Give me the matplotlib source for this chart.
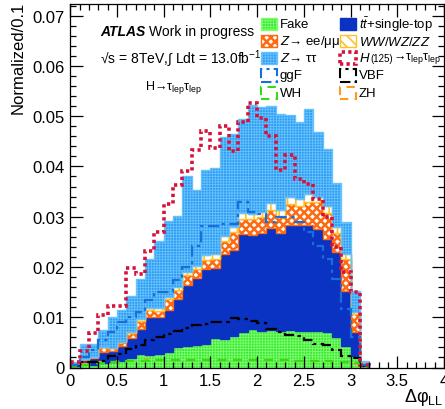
import numpy as np
import matplotlib
matplotlib.use("Agg")
import matplotlib.pyplot as plt
from matplotlib.patches import Rectangle
from matplotlib.ticker import MultipleLocator

# delta phi between the two leptons, 0.1 wide bins from 0 to 3.2
edges = np.round(np.arange(33) * 0.1, 1)

# backgrounds (stacked, bottom to top)
fake = [0.0003, 0.0006, 0.0005, 0.0008, 0.0010, 0.0013, 0.0018, 0.0027, 0.0025, 0.0027, 0.0030,
        0.0040, 0.0043, 0.0045, 0.0047, 0.0058, 0.0056, 0.0063, 0.0070, 0.0077, 0.0073, 0.0075,
        0.0073, 0.0075, 0.0073, 0.0073, 0.0073, 0.0070, 0.0060, 0.0043, 0.0023, 0.0002]
top = [0.0005, 0.0008, 0.0013, 0.0022, 0.0022, 0.0030, 0.0040, 0.0050, 0.0075, 0.0073, 0.0085,
       0.0096, 0.0121, 0.0134, 0.0148, 0.0139, 0.0170, 0.0171, 0.0196, 0.0187, 0.0195, 0.0202,
       0.0195, 0.0208, 0.0210, 0.0210, 0.0203, 0.0186, 0.0169, 0.0110, 0.0047, 0.0006]
zll = [0.0001, 0.0002, 0.0002, 0.0010, 0.0006, 0.0007, 0.0011, 0.0016, 0.0014, 0.0013, 0.0021,
       0.0019, 0.0019, 0.0016, 0.0019, 0.0019, 0.0026, 0.0035, 0.0030, 0.0031, 0.0031, 0.0037,
       0.0031, 0.0042, 0.0039, 0.0047, 0.0053, 0.0051, 0.0039, 0.0063, 0.0036, 0.0002]
diboson = [0.0000, 0.0000, 0.0001, 0.0001, 0.0001, 0.0001, 0.0001, 0.0004, 0.0004, 0.0005, 0.0005,
           0.0006, 0.0006, 0.0006, 0.0010, 0.0009, 0.0010, 0.0010, 0.0011, 0.0011, 0.0011, 0.0013,
           0.0015, 0.0014, 0.0013, 0.0015, 0.0010, 0.0014, 0.0011, 0.0010, 0.0004, 0.0000]
ztautau = [0.0001, 0.0031, 0.0026, 0.0034, 0.0061, 0.0064, 0.0073, 0.0080, 0.0098, 0.0134, 0.0150,
           0.0140, 0.0191, 0.0153, 0.0169, 0.0172, 0.0196, 0.0186, 0.0188, 0.0216, 0.0208, 0.0194,
           0.0190, 0.0163, 0.0153, 0.0169, 0.0129, 0.0114, 0.0088, 0.0063, 0.0043, 0.0003]

# signal shapes (each normalised on its own)
higgs = [0.0010, 0.0033, 0.0068, 0.0104, 0.0123, 0.0123, 0.0197, 0.0186, 0.0232, 0.0269, 0.0325,
         0.0363, 0.0390, 0.0433, 0.0470, 0.0436, 0.0480, 0.0431, 0.0489, 0.0527, 0.0496, 0.0461,
         0.0393, 0.0423, 0.0374, 0.0365, 0.0335, 0.0300, 0.0240, 0.0190, 0.0150, 0.0005]
ggf = [0.0005, 0.0020, 0.0035, 0.0055, 0.0070, 0.0090, 0.0100, 0.0110, 0.0135, 0.0150, 0.0150,
       0.0175, 0.0200, 0.0242, 0.0282, 0.0282, 0.0285, 0.0285, 0.0330, 0.0310, 0.0305, 0.0290,
       0.0300, 0.0299, 0.0290, 0.0270, 0.0242, 0.0216, 0.0176, 0.0116, 0.0060, 0.0005]
vbf = [0.0005, 0.0011, 0.0011, 0.0013, 0.0022, 0.0027, 0.0037, 0.0045, 0.0055, 0.0061, 0.0066,
       0.0073, 0.0078, 0.0085, 0.0087, 0.0091, 0.0091, 0.0098, 0.0097, 0.0092, 0.0089, 0.0076,
       0.0071, 0.0065, 0.0062, 0.0055, 0.0047, 0.0045, 0.0035, 0.0022, 0.0018, 0.0003]
wh = [0.0002, 0.0005, 0.0007, 0.0009, 0.0010, 0.0011, 0.0012, 0.0013, 0.0013, 0.0014, 0.0014,
      0.0015, 0.0015, 0.0015, 0.0015, 0.0015, 0.0015, 0.0015, 0.0015, 0.0015, 0.0015, 0.0014,
      0.0014, 0.0014, 0.0013, 0.0013, 0.0012, 0.0012, 0.0011, 0.0010, 0.0008, 0.0001]
zh = [0.0002, 0.0006, 0.0008, 0.0010, 0.0011, 0.0012, 0.0013, 0.0013, 0.0014, 0.0014, 0.0014,
      0.0015, 0.0015, 0.0015, 0.0015, 0.0015, 0.0015, 0.0015, 0.0015, 0.0015, 0.0014, 0.0014,
      0.0014, 0.0014, 0.0013, 0.0013, 0.0013, 0.0012, 0.0011, 0.0010, 0.0007, 0.0001]

plt.rcParams["font.family"] = ["Liberation Sans", "DejaVu Sans"]
plt.rcParams["mathtext.fontset"] = "custom"
plt.rcParams["mathtext.rm"] = "Liberation Sans"
plt.rcParams["mathtext.it"] = "Liberation Sans:italic"
plt.rcParams["mathtext.bf"] = "Liberation Sans:bold"

W, H = 445, 410
fig = plt.figure(figsize=(W / 100, H / 100), dpi=100)
ax = fig.add_axes([70.3 / W, 41.5 / H, 373.7 / W, 363.5 / H])

# style of each stacked component: face, edge/hatch colour, hatch, hatch width
stack = [
    (fake, "#3ce63c", "#7dff6a", "++++++", 0.6),
    (top, "#0a32c3", "#0a32c3", None, 0.6),
    (zll, "white", "#ff6a10", "xxxx", 1.8),
    (diboson, "white", "#ffc125", "||", 1.2),
    (ztautau, "#2f9cf0", "#66c2ff", "++++++", 0.6),
]
bottom = np.zeros(len(fake))
for vals, face, edge, hatch, hlw in stack:
    upper = bottom + np.array(vals)
    with plt.rc_context({"hatch.linewidth": hlw}):
        ax.stairs(upper, edges, baseline=bottom, fill=True, facecolor=face,
                  edgecolor=edge, hatch=hatch, linewidth=1.0)
    bottom = upper

# signal shapes drawn as lines
ax.stairs(zh, edges, color="#ff9a1a", lw=1.6, ls=(0, (4, 3)))
ax.stairs(wh, edges, color="#33dd11", lw=1.6, ls=(0, (4, 3)))
ax.stairs(vbf, edges, color="black", lw=1.6, ls=(0, (5, 2, 1.5, 2)))
ax.stairs(ggf, edges, color="#1a6fd6", lw=1.6, ls=(0, (5, 2, 1.5, 2)))
ax.stairs(higgs, edges, color="#d6123c", lw=2.6, ls=(0, (0.9, 0.9)))

ax.set_xlim(0, 4)
ax.set_ylim(0, 0.0723)
ax.xaxis.set_minor_locator(MultipleLocator(0.1))
ax.yaxis.set_minor_locator(MultipleLocator(0.002))
ax.tick_params(which="both", direction="in", top=True, right=True, labelsize=12, width=0.9)
ax.tick_params(which="major", length=9, pad=4)
ax.tick_params(which="minor", length=4.5)
ax.set_xticks(np.arange(0, 4.01, 0.5))
ax.set_xticklabels(["0", "0.5", "1", "1.5", "2", "2.5", "3", "3.5", "4"])
ax.set_yticks(np.arange(0, 0.0701, 0.01))
ax.set_yticklabels(["0", "0.01", "0.02", "0.03", "0.04", "0.05", "0.06", "0.07"])
for s in ax.spines.values():
    s.set_linewidth(0.9)

fig.text(18 / W, 1 - 2 / H, "Normalized/0.1", rotation=90, ha="center", va="top", fontsize=12)
fig.text(443 / W, 1 - 398 / H, "Δφ$_{\\rm LL}$", ha="right", va="center", fontsize=13)

# labels
fig.text(100 / W, 1 - 32 / H, "ATLAS", fontsize=10, fontweight="bold", fontstyle="italic",
         ha="left", va="center")
fig.text(149 / W, 1 - 32 / H, "Work in progress", fontsize=10, ha="left", va="center")
fig.text(100 / W, 1 - 59 / H, "√s = 8TeV,∫ Ldt = 13.0fb$^{-1}$", fontsize=10,
         ha="left", va="center")
fig.text(145 / W, 1 - 88 / H, "H→τ$_{\\rm lep}$τ$_{\\rm lep}$", fontsize=9,
         ha="left", va="center")

# legend, two columns
legend = [
    (261, 25, "Fake", dict(facecolor="#3ce63c", edgecolor="#7dff6a", hatch="++++++"), 0.6),
    (261, 42, "$Z$→ ee/μμ", dict(facecolor="white", edgecolor="#ff6a10", hatch="xxxx"), 1.8),
    (261, 59, "$Z$→ ττ", dict(facecolor="#2f9cf0", edgecolor="#66c2ff", hatch="++++++"), 0.6),
    (261, 76.5, "ggF", dict(fill=False, edgecolor="#1a6fd6", ls=(0, (5, 2, 1.5, 2)), lw=1.5), 1.0),
    (261, 94, "WH", dict(fill=False, edgecolor="#33dd11", ls=(0, (4, 3)), lw=1.5), 1.0),
    (340, 25, r"$t\bar{t}$+single-top", dict(facecolor="#0a32c3", edgecolor="#0a32c3"), 1.0),
    (340, 42, "$WW/WZ/ZZ$", dict(facecolor="white", edgecolor="#ffc125", hatch="\\\\\\"), 1.2),
    (340, 59, None, dict(fill=False, edgecolor="#d6123c", ls=(0, (0.9, 0.9)), lw=2.6), 1.0),
    (340, 76.5, "VBF", dict(fill=False, edgecolor="black", ls=(0, (5, 2, 1.5, 2)), lw=1.5), 1.0),
    (340, 94, "ZH", dict(fill=False, edgecolor="#ff9a1a", ls=(0, (4, 3)), lw=1.5), 1.0),
]
for px, py, label, style, hlw in legend:
    with plt.rc_context({"hatch.linewidth": hlw}):
        box = Rectangle((px / W, 1 - (py + 6) / H), 16 / W, 12 / H, transform=fig.transFigure, **style)
    fig.add_artist(box)
    if label is not None:
        fig.text((px + 19) / W, 1 - py / H, label, fontsize=9.5, ha="left", va="center")

# Higgs entry: mass in a smaller size, pieces placed one after the other
renderer = fig.canvas.get_renderer()
x = 359
for piece, size in [("$H$", 9.5), ("(125)", 7), ("→τ$_{\\rm lep}$τ$_{\\rm lep}$", 9)]:
    t = fig.text(x / W, 1 - 59 / H, piece, fontsize=size, ha="left", va="center")
    x += t.get_window_extent(renderer).width

fig.savefig("out.png", dpi=100)
